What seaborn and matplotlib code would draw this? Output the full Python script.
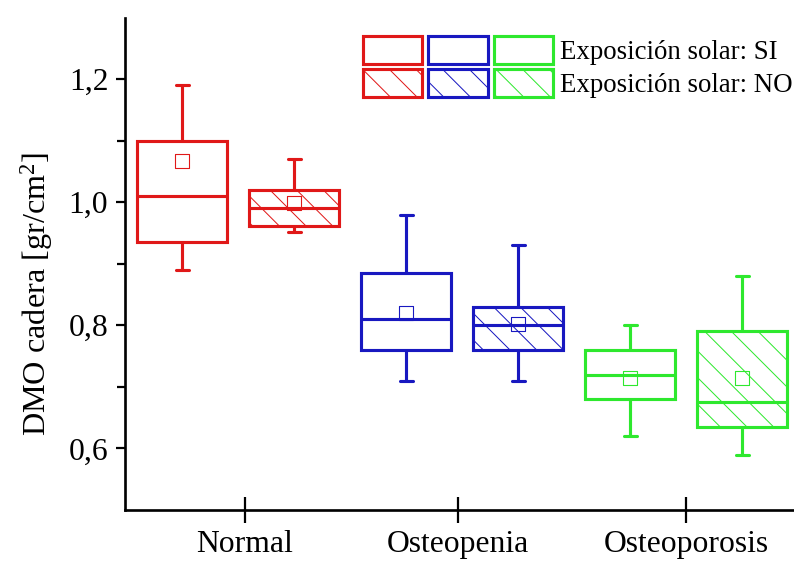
import matplotlib
matplotlib.use("Agg")
import matplotlib.pyplot as plt
import matplotlib.patches as mpatches
from matplotlib.legend_handler import HandlerTuple
from matplotlib.ticker import FixedLocator, FuncFormatter
import numpy as np
import pandas as pd
import seaborn as sns

groups = ["Normal", "Osteopenia", "Osteoporosis"]
exposure = ["SI", "NO"]
group_colors = ["#E01818", "#1818C0", "#2EE82E"]

# box summary
# order: Normal SI, Normal NO, Osteopenia SI, Osteopenia NO, Osteoporosis SI, Osteoporosis NO
whisker_low = [0.89, 0.951, 0.71, 0.71, 0.62, 0.59]
q1 = [0.935, 0.961, 0.76, 0.76, 0.68, 0.635]
median = [1.01, 0.99, 0.81, 0.80, 0.72, 0.675]
q3 = [1.10, 1.02, 0.885, 0.83, 0.76, 0.79]
whisker_high = [1.19, 1.07, 0.98, 0.93, 0.80, 0.88]
mean = [1.067, 0.998, 0.82, 0.802, 0.715, 0.714]

y_ticks = [0.6, 0.8, 1.0, 1.2]
y_minor = [0.7, 0.9, 1.1]

labels = [f"{g} {e}" for g in groups for e in exposure]
box_colors = [c for c in group_colors for _ in exposure]
palette = dict(zip(labels, box_colors))

# five points per box -> min / q1 / median / q3 / max with whis=(0, 100)
rows = []
for lab, lo, a, m, b, hi in zip(labels, whisker_low, q1, median, q3, whisker_high):
    for v in (lo, a, m, b, hi):
        rows.append({"box": lab, "value": v})
df = pd.DataFrame(rows)
means = pd.DataFrame({"box": labels, "mean": mean})

sns.set_style("ticks")
plt.rcParams["font.family"] = ["Liberation Serif", "DejaVu Serif"]
plt.rcParams["mathtext.fontset"] = "custom"
plt.rcParams["mathtext.rm"] = "Liberation Serif"
plt.rcParams["mathtext.it"] = "Liberation Serif:italic"
plt.rcParams["hatch.linewidth"] = 0.9
for k in ["text.color", "axes.labelcolor", "xtick.color", "ytick.color", "axes.edgecolor"]:
    plt.rcParams[k] = "black"

W, H, DPI = 794, 563, 80
fig = plt.figure(figsize=(W / DPI, H / DPI), dpi=DPI)
ax = fig.add_axes([125 / W, 53 / H, 669 / W, 492.5 / H])

LW = 2.8
sns.boxplot(data=df, x="box", y="value", hue="box", order=labels, hue_order=labels,
            palette=palette, width=0.8, whis=(0, 100), linewidth=LW, fliersize=0,
            legend=False, ax=ax)

# white boxes, coloured outlines, hatch for "NO"
for patch in ax.patches:
    verts = patch.get_path().vertices
    i = int(round(verts[:-1, 0].mean()))
    patch.set_facecolor("white")
    patch.set_edgecolor(box_colors[i])
    if labels[i].endswith("NO"):
        patch.set_hatch("\\")

for line in ax.lines:
    xs = np.asarray(line.get_xdata(), dtype=float)
    ys = np.asarray(line.get_ydata(), dtype=float)
    if xs.size == 0:
        continue
    i = int(round(xs.mean()))
    line.set_color(box_colors[i])
    # short caps
    if xs.size == 2 and ys[0] == ys[1] and abs(xs[1] - xs[0]) < 0.7:
        line.set_xdata([i - 0.058, i + 0.058])

sns.stripplot(data=means, x="box", y="mean", hue="box", order=labels, hue_order=labels,
              palette=palette, jitter=False, marker="s", size=12.5, linewidth=1,
              legend=False, ax=ax)
for coll in ax.collections:
    fc = coll.get_facecolors()
    coll.set_edgecolors(fc)
    coll.set_facecolors("none")

ax.set_xlim(-0.51, 5.463)
ax.set_ylim(0.5, 1.3)
ax.yaxis.set_major_locator(FixedLocator(y_ticks))
ax.yaxis.set_minor_locator(FixedLocator(y_minor))
ax.yaxis.set_major_formatter(FuncFormatter(lambda v, p: f"{v:.1f}".replace(".", ",")))
ax.set_xticks([0.56, 2.46, 4.5], groups)

sns.despine(ax=ax)
for s in ["left", "bottom"]:
    ax.spines[s].set_linewidth(2.4)
ax.tick_params(axis="y", which="major", direction="out", length=8, width=2, pad=7,
               labelsize=28.5)
ax.tick_params(axis="y", which="minor", direction="out", length=7, width=2)
ax.tick_params(axis="x", direction="inout", length=24, width=2, pad=6, labelsize=28.5)

ax.set_xlabel("")
ax.set_ylabel(r"DMO cadera [gr/cm$^2$]", fontsize=29)
ax.yaxis.set_label_coords((55 - 125) / 669, (510 - 294) / 492.5)

si = tuple(mpatches.Patch(facecolor="white", edgecolor=c, linewidth=LW) for c in group_colors)
no = tuple(mpatches.Patch(facecolor="white", edgecolor=c, linewidth=LW, hatch="\\")
           for c in group_colors)
fs = 24.2
px = fs * DPI / 72
ax.legend([si, no], ["Exposición solar: SI", "Exposición solar: NO"],
          handler_map={tuple: HandlerTuple(ndivide=None, pad=6 / px)},
          loc="upper left", bbox_to_anchor=((363 - 125) / 669, (510 - 36) / 492.5),
          frameon=False, fontsize=fs, handlelength=190 / px, handleheight=1.2,
          handletextpad=7 / px, labelspacing=0.16, borderpad=0, borderaxespad=0)

fig.savefig("out.png", dpi=DPI)
